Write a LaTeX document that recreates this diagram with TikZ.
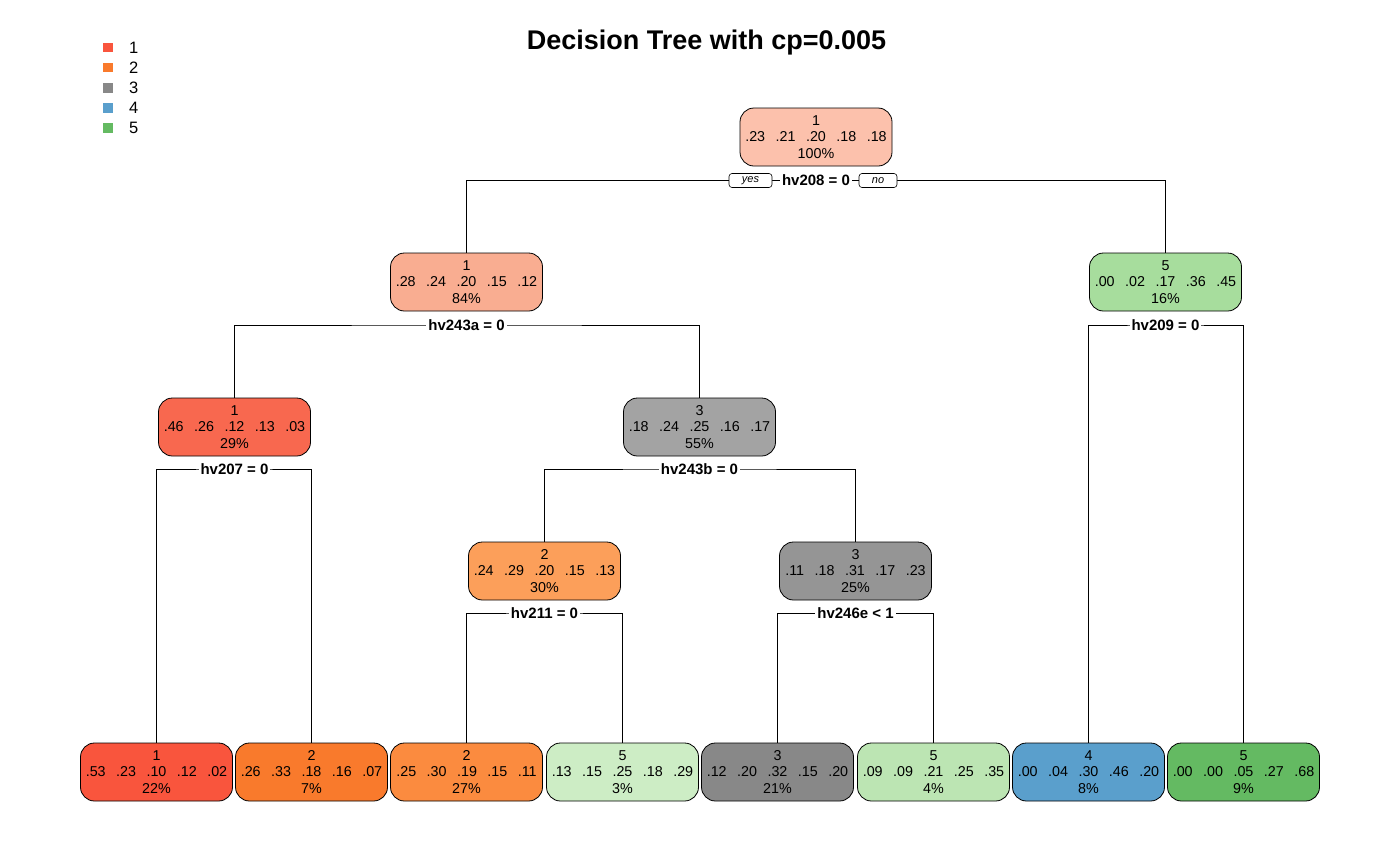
\documentclass[tikz,border=0pt]{standalone}
\usepackage{fontspec}
\setmainfont{Liberation Sans}
\definecolor{cA}{HTML}{F9553D}
\definecolor{cB}{HTML}{F97A2C}
\definecolor{cC}{HTML}{888888}
\definecolor{cD}{HTML}{5A9FCC}
\definecolor{cE}{HTML}{64BA62}
\definecolor{rootc}{HTML}{FCC1AC}
\definecolor{lAc}{HTML}{F9AD91}
\definecolor{rAc}{HTML}{A7DD9D}
\definecolor{lBc}{HTML}{F8684F}
\definecolor{rBc}{HTML}{A3A3A3}
\definecolor{lCc}{HTML}{FC9F5A}
\definecolor{rCc}{HTML}{959595}
\definecolor{leafc}{HTML}{FB8B3F}
\definecolor{leafd}{HTML}{CDEDC5}
\definecolor{leafe}{HTML}{BCE5B3}
\newcommand{\gp}{\hspace{10.5pt}}
\begin{document}
\begin{tikzpicture}[x=1pt,y=-1pt,
  tnode/.style={draw=black, line width=0.8pt, rounded corners=14pt, minimum width=152pt, minimum height=58pt, align=center, inner sep=0pt, font=\fontsize{14.3}{16.3}\selectfont},
  splitlbl/.style={fill=white, inner sep=2pt, font=\fontsize{15}{16}\bfseries\selectfont},
  yn/.style={draw=black, line width=0.6pt, fill=white, rounded corners=3pt, minimum height=14pt, inner sep=0pt, font=\fontsize{11}{12}\itshape\selectfont},
  conn/.style={draw=black, line width=0.8pt},
  legsq/.style={minimum size=9.5pt, inner sep=0pt},
  leglbl/.style={anchor=west, inner sep=0pt, font=\fontsize{16.5}{18}\selectfont}]
\useasboundingbox[fill=white] (0,0) rectangle (1400,865);
% title
\node[font=\fontsize{27}{30}\bfseries\selectfont] (title) at (706.5,43) {Decision Tree with cp=0.005};
% legend
\node[legsq, fill=cA] (lg1) at (108,47.5) {};
\node[legsq, fill=cB] (lg2) at (108,67.5) {};
\node[legsq, fill=cC] (lg3) at (108,88) {};
\node[legsq, fill=cD] (lg4) at (108,108) {};
\node[legsq, fill=cE] (lg5) at (108,128) {};
\node[leglbl] (lt1) at (129,47.5) {1};
\node[leglbl] (lt2) at (129,67.5) {2};
\node[leglbl] (lt3) at (129,88) {3};
\node[leglbl] (lt4) at (129,108) {4};
\node[leglbl] (lt5) at (129,128) {5};
% nodes
\node[tnode, fill=rootc] (n1) at (816,137) {1\\.23\gp.21\gp.20\gp.18\gp.18\\100\%};
\node[tnode, fill=lAc] (n2) at (466.5,282) {1\\.28\gp.24\gp.20\gp.15\gp.12\\84\%};
\node[tnode, fill=rAc] (n3) at (1165.5,282) {5\\.00\gp.02\gp.17\gp.36\gp.45\\16\%};
\node[tnode, fill=lBc] (n4) at (234.5,427) {1\\.46\gp.26\gp.12\gp.13\gp.03\\29\%};
\node[tnode, fill=rBc] (n5) at (699.5,427) {3\\.18\gp.24\gp.25\gp.16\gp.17\\55\%};
\node[tnode, fill=lCc] (n10) at (544.5,571) {2\\.24\gp.29\gp.20\gp.15\gp.13\\30\%};
\node[tnode, fill=rCc] (n11) at (855.5,571) {3\\.11\gp.18\gp.31\gp.17\gp.23\\25\%};
\node[tnode, fill=cA] (l1) at (156.5,772) {1\\.53\gp.23\gp.10\gp.12\gp.02\\22\%};
\node[tnode, fill=cB] (l2) at (311.5,772) {2\\.26\gp.33\gp.18\gp.16\gp.07\\7\%};
\node[tnode, fill=leafc] (l3) at (466.5,772) {2\\.25\gp.30\gp.19\gp.15\gp.11\\27\%};
\node[tnode, fill=leafd] (l4) at (622.5,772) {5\\.13\gp.15\gp.25\gp.18\gp.29\\3\%};
\node[tnode, fill=cC] (l5) at (777.5,772) {3\\.12\gp.20\gp.32\gp.15\gp.20\\21\%};
\node[tnode, fill=leafe] (l6) at (933.5,772) {5\\.09\gp.09\gp.21\gp.25\gp.35\\4\%};
\node[tnode, fill=cD] (l7) at (1088.5,772) {4\\.00\gp.04\gp.30\gp.46\gp.20\\8\%};
\node[tnode, fill=cE] (l8) at (1243.5,772) {5\\.00\gp.00\gp.05\gp.27\gp.68\\9\%};
% split coordinates
\coordinate (s1) at (816,180.5);
\coordinate (s2) at (466.5,325);
\coordinate (s3) at (1165.5,325);
\coordinate (s4) at (234.5,469);
\coordinate (s5) at (699.5,469);
\coordinate (s10) at (544.5,613);
\coordinate (s11) at (855.5,613);
% connectors
\draw[conn] (n2.north) |- (s1) -| (n3.north);
\draw[conn] (n4.north) |- (s2) -| (n5.north);
\draw[conn] (l7.north) |- (s3) -| (l8.north);
\draw[conn] (l1.north) |- (s4) -| (l2.north);
\draw[conn] (n10.north) |- (s5) -| (n11.north);
\draw[conn] (l3.north) |- (s10) -| (l4.north);
\draw[conn] (l5.north) |- (s11) -| (l6.north);
% split labels
\node[splitlbl] (t1) at (s1) {hv208 = 0};
\node[splitlbl] (t2) at (s2) {hv243a = 0};
\node[splitlbl] (t3) at (s3) {hv209 = 0};
\node[splitlbl] (t4) at (s4) {hv207 = 0};
\node[splitlbl] (t5) at (s5) {hv243b = 0};
\node[splitlbl] (t10) at (s10) {hv211 = 0};
\node[splitlbl] (t11) at (s11) {hv246e < 1};
\node[yn, minimum width=43pt] (yes) at (750.5,180.5) {yes};
\node[yn, minimum width=38pt] (no) at (878,180.5) {no};
\end{tikzpicture}
\end{document}
